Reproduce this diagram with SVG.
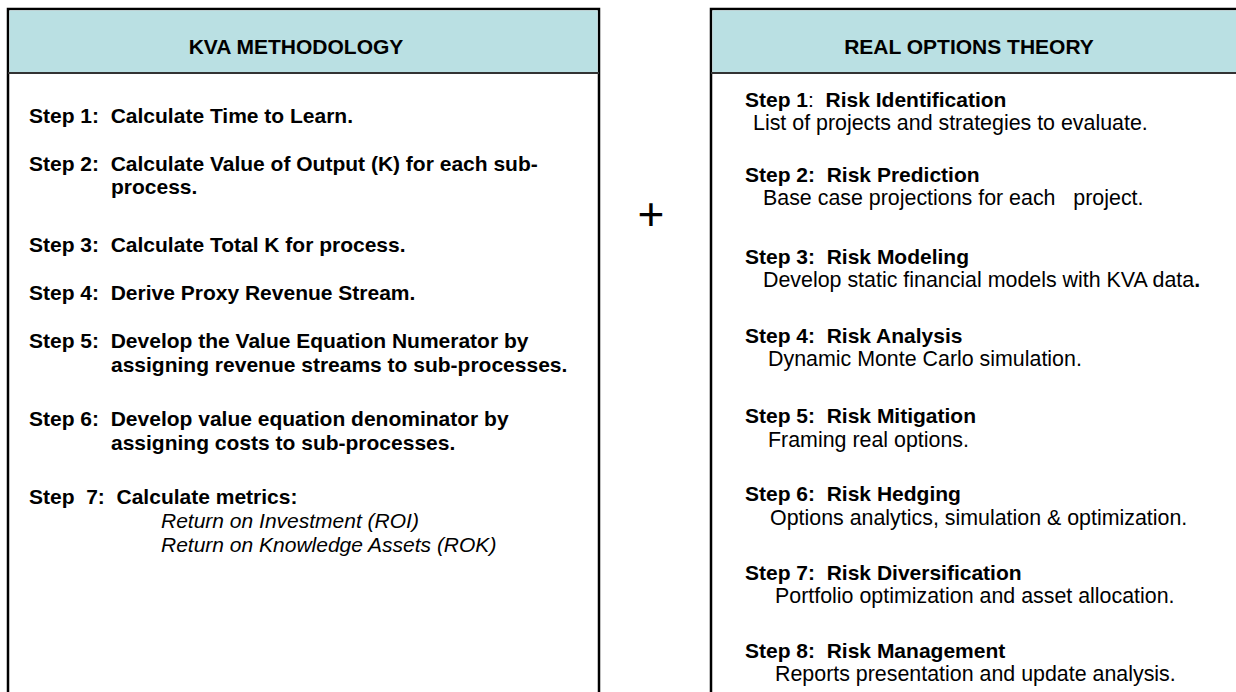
<svg xmlns="http://www.w3.org/2000/svg" width="1236" height="692" viewBox="0 0 1236 692">
<style>
text{font-family:"Liberation Sans",Arial,sans-serif;font-size:21px;fill:#000;white-space:pre}
.b{font-weight:bold}
.i{font-style:italic}
.n{font-weight:normal}
.d{font-size:21.4px}
.hdr{fill:#bae0e3;stroke:none}
.box{fill:#fff;stroke:#000;stroke-width:2.5}
.hl{stroke:#333;stroke-width:2}
</style>
<rect width="1236" height="692" fill="#fff"/>
<g id="kva">
<rect class="box" x="8" y="9" width="591" height="700"/>
<rect class="hdr" x="9.5" y="10.5" width="588" height="62"/>
<line class="hl" x1="8" y1="73" x2="599" y2="73"/>
<text class="b" x="296" y="54" text-anchor="middle">KVA METHODOLOGY</text>
<text class="b" x="29" y="123">Step 1:  Calculate Time to Learn.</text>
<text class="b" x="29" y="171">Step 2:  Calculate Value of Output (K) for each sub-</text>
<text class="b" x="111" y="194">process.</text>
<text class="b" x="29" y="252">Step 3:  Calculate Total K for process.</text>
<text class="b" x="29" y="300">Step 4:  Derive Proxy Revenue Stream.</text>
<text class="b" x="29" y="348">Step 5:  Develop the Value Equation Numerator by</text>
<text class="b" x="111" y="372">assigning revenue streams to sub-processes.</text>
<text class="b" x="29" y="426">Step 6:  Develop value equation denominator by</text>
<text class="b" x="111" y="450">assigning costs to sub-processes.</text>
<text class="b" x="29" y="504">Step  7:  Calculate metrics:</text>
<text class="i" x="161" y="528">Return on Investment (ROI)</text>
<text class="i" x="161" y="552">Return on Knowledge Assets (ROK)</text>
</g>
<g id="plus">
<text x="651" y="230" text-anchor="middle" style="font-size:46px">+</text>
</g>
<g id="rot">
<rect class="box" x="711" y="9" width="560" height="700"/>
<rect class="hdr" x="712.5" y="10.5" width="540" height="62"/>
<line class="hl" x1="711" y1="73" x2="1250" y2="73"/>
<text class="b" x="969" y="54" text-anchor="middle">REAL OPTIONS THEORY</text>
<text class="b" x="745" y="107">Step 1<tspan class="n">:</tspan>  Risk Identification</text>
<text class="d" x="753" y="130">List of projects and strategies to evaluate.</text>
<text class="b" x="745" y="182">Step 2:  Risk Prediction</text>
<text class="d" x="763" y="205">Base case projections for each   project.</text>
<text class="b" x="745" y="264">Step 3:  Risk Modeling</text>
<text class="d" x="763" y="287">Develop static financial models with KVA data<tspan class="b">.</tspan></text>
<text class="b" x="745" y="343">Step 4:  Risk Analysis</text>
<text class="d" x="768" y="366">Dynamic Monte Carlo simulation.</text>
<text class="b" x="745" y="423">Step 5:  Risk Mitigation</text>
<text class="d" x="768" y="447">Framing real options.</text>
<text class="b" x="745" y="501">Step 6:  Risk Hedging</text>
<text class="d" x="770" y="525">Options analytics, simulation &amp; optimization.</text>
<text class="b" x="745" y="580">Step 7:  Risk Diversification</text>
<text class="d" x="775" y="603">Portfolio optimization and asset allocation.</text>
<text class="b" x="745" y="658">Step 8:  Risk Management</text>
<text class="d" x="775" y="681">Reports presentation and update analysis.</text>
</g>
</svg>
